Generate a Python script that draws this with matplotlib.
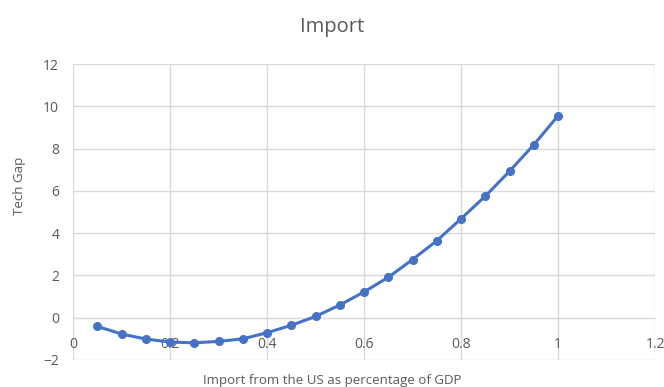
import matplotlib.pyplot as plt

# share of imports from the US (x) vs tech gap (y)
import_share = [0.05, 0.1, 0.15, 0.2, 0.25, 0.3, 0.35, 0.4, 0.45, 0.5,
                0.55, 0.6, 0.65, 0.7, 0.75, 0.8, 0.85, 0.9, 0.95, 1.0]
tech_gap = [-0.41, -0.77, -1.01, -1.15, -1.19, -1.12, -1.0, -0.71, -0.36, 0.06,
            0.6, 1.22, 1.91, 2.75, 3.64, 4.68, 5.75, 6.93, 8.18, 9.55]

x_ticks = [0, 0.2, 0.4, 0.6, 0.8, 1, 1.2]
x_tick_labels = ["0", "0.2", "0.4", "0.6", "0.8", "1", "1.2"]
y_ticks = [-2, 0, 2, 4, 6, 8, 10, 12]

plt.rcParams['font.family'] = ['Open Sans', 'DejaVu Sans']
grey = "#595959"

fig = plt.figure(figsize=(6.64, 3.87), dpi=100)
ax = fig.add_axes([0.110, 0.0698, 0.8765, 0.7648])

ax.plot(import_share, tech_gap, color="#4472C4", linewidth=2.2,
        marker="o", markersize=5.5, zorder=3)

ax.set_xlim(0, 1.2)
ax.set_ylim(-2, 12)
ax.set_xticks(x_ticks)
ax.set_xticklabels(x_tick_labels)
ax.set_yticks(y_ticks)
ax.grid(True, color="#d9d9d9", linewidth=1)
ax.set_axisbelow(True)

for s in ["top", "right", "left"]:
    ax.spines[s].set_visible(False)
# horizontal axis crosses at y = 0, like Excel
ax.spines["bottom"].set_position(("data", 0))
ax.spines["bottom"].set_color("#d9d9d9")
ax.tick_params(axis="both", length=0, labelsize=10, colors=grey)
ax.tick_params(axis="x", pad=14)
ax.tick_params(axis="y", pad=10)

fig.text(0.5, 0.93, "Import", ha="center", va="center", fontsize=14.5, color=grey)
fig.text(0.5, 0.018, "Import from the US as percentage of GDP", ha="center",
         va="center", fontsize=9.5, color=grey)
fig.text(0.03, 0.52, "Tech Gap", ha="center", va="center", rotation=90,
         fontsize=9.5, color=grey)

fig.savefig("out.png", dpi=100)
